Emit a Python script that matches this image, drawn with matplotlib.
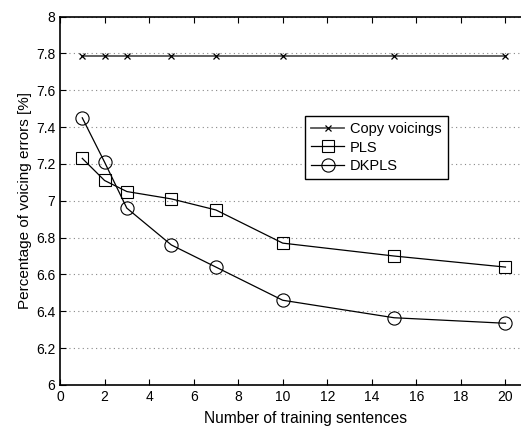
import matplotlib
matplotlib.use('Agg')
import matplotlib.pyplot as plt

plt.rcParams['font.family'] = ['Liberation Sans', 'DejaVu Sans']

sentences = [1, 2, 3, 5, 7, 10, 15, 20]
copy_voicings = [7.785, 7.785, 7.785, 7.785, 7.785, 7.785, 7.785, 7.785]
pls = [7.23, 7.11, 7.05, 7.01, 6.95, 6.77, 6.70, 6.64]
dkpls = [7.45, 7.21, 6.96, 6.76, 6.64, 6.46, 6.365, 6.335]

fig = plt.figure(figsize=(5.21, 4.30), dpi=100)
# right edge of the axes runs past the image, like the original crop
ax = fig.add_axes([60 / 521, 45 / 430, 490 / 521, 368.5 / 430])

ax.plot(sentences, copy_voicings, color='#555555', lw=1.3, marker='x',
        ms=5, mec='black', mew=0.9, label='Copy voicings')
ax.plot(sentences, pls, color='black', lw=0.9, marker='s', ms=8,
        mfc='none', mec='black', mew=0.8, label='PLS')
ax.plot(sentences, dkpls, color='black', lw=0.9, marker='o', ms=9.5,
        mfc='none', mec='black', mew=0.8, label='DKPLS')

ax.set_xlim(0, 22)
ax.set_ylim(6, 8)
ax.set_xticks(range(0, 21, 2))
ax.set_yticks([6, 6.2, 6.4, 6.6, 6.8, 7, 7.2, 7.4, 7.6, 7.8, 8])
ax.set_yticklabels(['6', '6.2', '6.4', '6.6', '6.8', '7', '7.2', '7.4', '7.6', '7.8', '8'])
ax.yaxis.grid(True, linestyle=(0, (1, 3)), color='#888888', lw=0.8)
ax.tick_params(direction='in', top=True, right=True, labelsize=10, length=4)
for s in ax.spines.values():
    s.set_linewidth(1.2)

ax.set_xlabel('Number of training sentences', fontsize=11.2, labelpad=5)
ax.set_ylabel('Percentage of voicing errors [%]', fontsize=11, labelpad=3)

leg = ax.legend(loc='upper right', bbox_to_anchor=(455 / 521, 1 - 109 / 430),
                bbox_transform=fig.transFigure, fancybox=False, framealpha=1,
                edgecolor='black', fontsize=10.5, handlelength=2.3,
                borderpad=0.4, labelspacing=0.3, handletextpad=0.4)
leg.get_frame().set_linewidth(1.0)

fig.savefig('out.png', dpi=100)
